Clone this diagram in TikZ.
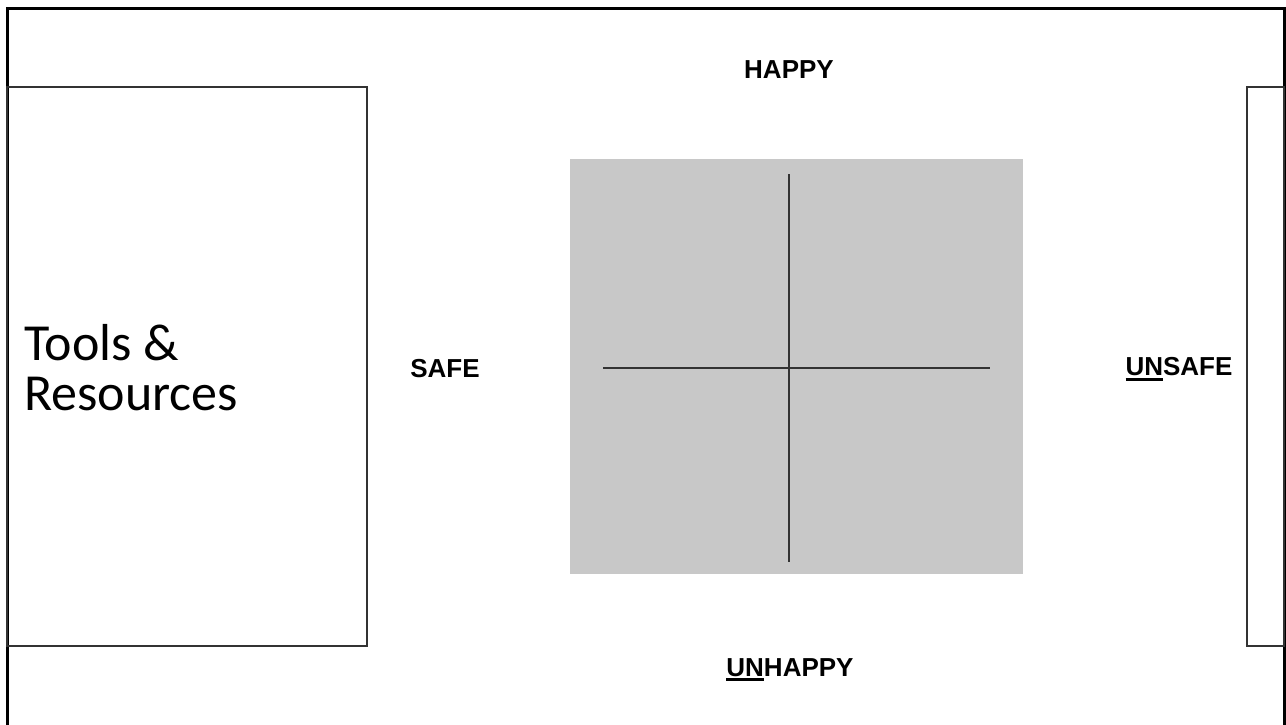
\documentclass[tikz,border=0pt]{standalone}
\usepackage{fontspec}
\setmainfont{Liberation Sans}
\newfontfamily\calib{Carlito}
\newcommand\myul[1]{\setbox0\hbox{#1}\rlap{\rule[-5pt]{\wd0}{3pt}}\box0}
\tikzset{
  axislabel/.style={font=\fontsize{26}{30}\selectfont\bfseries, inner sep=0pt},
  sidebox/.style={draw=black!80, line width=1.2pt},
  axisline/.style={draw=black!80, line width=1.8pt}
}
\begin{document}
\begin{tikzpicture}[x=1pt,y=-1pt]
\useasboundingbox (0,0) rectangle (1286,724);
\fill[white] (0,0) rectangle (1286,724);
% outer frame
\draw[line width=3pt] (7,740) -- (7,8) -- (1284,8) -- (1284,740);
% side boxes
\draw[sidebox] (7,87) rectangle (367,646);
\draw[sidebox] (1247,87) rectangle (1284,646);
\node[anchor=west, align=left, inner sep=0pt, font=\calib\fontsize{52}{50}\selectfont] (tools) at (24,368) {Tools \&\\Resources};
% grey quadrant square
\fill[black!21.5] (570,159) rectangle (1023,574);
\coordinate (vt) at (789,174);
\coordinate (vb) at (789,562);
\coordinate (hl) at (603,368);
\coordinate (hr) at (990,368);
\draw[axisline] (vt) -- (vb);
\draw[axisline] (hl) -- (hr);
% labels
\node[axislabel] (happy) at (789,70) {HAPPY};
\node[axislabel] (unhappy) at (790,670) {\myul{UN}HAPPY};
\node[axislabel] (safe) at (445,369) {SAFE};
\node[axislabel] (unsafe) at (1179,369) {\myul{UN}SAFE};
\end{tikzpicture}
\end{document}
